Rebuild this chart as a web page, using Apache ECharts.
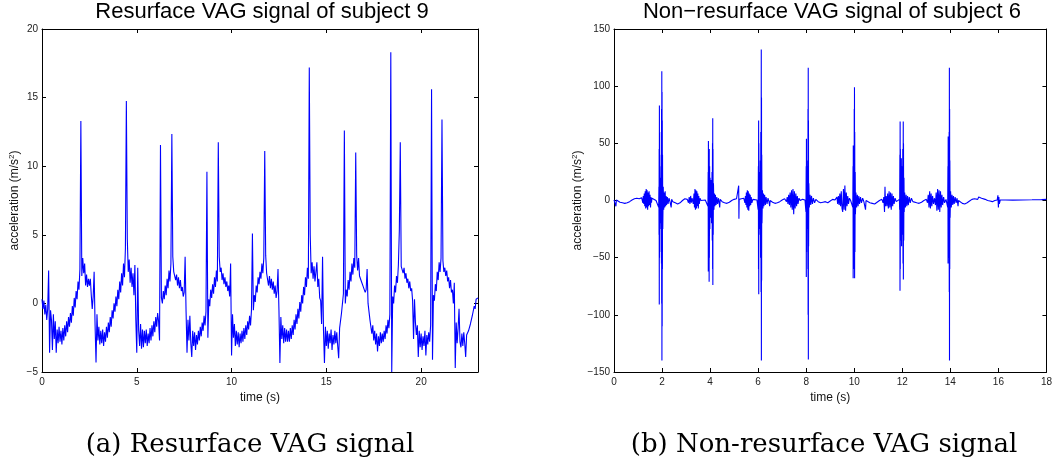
<!DOCTYPE html>
<html>
<head>
<meta charset="utf-8">
<script src="https://cdn.jsdelivr.net/npm/echarts@6/dist/echarts.min.js"></script>
<style>
html,body{margin:0;padding:0;background:#fff;}
#chart{width:1055px;height:465px;}
</style>
</head>
<body>
<div id="chart"></div>
<script>
// ---- Texts ----
const titleA = 'Resurface VAG signal of subject 9';
const titleB = 'Non\u2212resurface VAG signal of subject 6';
const captionA = '(a) Resurface VAG signal';
const captionB = '(b) Non-resurface VAG signal';
const xName = 'time (s)';
const yName = 'acceleration (m/s{sup|2})';

// ---- Axis ranges / ticks ----
const axisA = {xMin: 0, xMax: 23, xStep: 5, yMin: -5, yMax: 20, yStep: 5};
const axisB = {xMin: 0, xMax: 18, xStep: 2, yMin: -150, yMax: 150, yStep: 50};

// ---- (a) Resurface signal: samples every 0.05 s ----
const sampleStepA = 0.05;
const accelA = [
  0.3, -0.4, 0.2, -0.8, -0.1, -1.2, -0.4, 2.4, -3.6, -0.5,
  -1.2, -3.4, -0.8, -2.6, -1.3, -3.6, -1.9, -2.9, -1.7, -2.8,
  -2.0, -3.0, -1.8, -2.7, -1.6, -2.4, -1.3, -2.1, -1.0, -1.7,
  -0.7, -1.4, -0.2, -0.9, 0.4, -0.3, 0.9, 0.3, 1.6, 1.0,
  2.5, 13.3, 2.0, 3.3, 2.2, 2.9, 1.3, 2.1, 1.2, 1.8,
  1.3, 1.8, 0.6, -0.4, 0.5, 2.3, -1.6, -4.3, -0.8, -2.7,
  -1.7, -3.0, -2.0, -2.9, -1.9, -3.1, -2.1, -2.8, -1.7, -2.5,
  -1.4, -2.1, -1.0, -1.7, -0.5, -1.1, 0.0, -0.6, 0.5, -0.2,
  1.0, 0.3, 1.6, 0.8, 2.2, 1.3, 2.9, 1.9, 4.0, 14.75,
  4.7, 2.3, 3.2, 1.5, 2.6, 1.2, 2.2, 0.6, 2.8, -1.2,
  -3.6, 2.6, -2.0, -3.1, -1.5, -3.3, -1.9, -3.2, -2.0, -2.9,
  -1.9, -3.1, -2.2, -2.9, -1.8, -2.7, -1.6, -2.4, -1.3, -2.1,
  -1.0, -1.7, -0.7, -1.3, -2.7, 11.55, 0.4, 0.0, 0.9, 0.3,
  1.3, 0.6, 1.8, 1.1, 2.4, 1.6, 2.9, 12.35, 3.4, 2.3,
  2.4, 1.7, 2.1, 1.3, 1.9, 1.1, 1.7, 0.9, 1.2, 0.5,
  0.8, 3.4, -0.6, -3.6, -1.2, -2.7, -0.9, -2.9, -3.9, -2.0,
  -3.1, -2.1, -3.4, -2.3, -3.0, -2.0, -2.7, -1.7, -2.4, -1.4,
  -2.0, -0.9, -1.6, -0.6, 9.6, -2.5, 0.3, -0.2, 1.0, 0.4,
  1.4, 0.7, 1.9, 1.2, 2.4, 1.6, 11.74, 3.4, 2.3, 2.6,
  1.7, 2.2, 1.4, 1.9, 1.2, 1.6, 0.9, 1.3, 0.5, 2.9,
  -3.8, -0.8, -2.5, -1.5, -3.1, -2.0, -3.0, -2.1, -3.2, -2.2,
  -2.9, -2.0, -2.8, -1.8, -2.6, -1.6, -2.3, -1.3, -1.9, -0.9,
  -1.6, -0.5, 5.1, -0.5, 0.6, 0.1, 1.3, 0.8, 1.9, 1.4,
  2.3, 1.8, 2.9, 2.2, 3.3, 11.1, 3.5, 2.2, 2.3, 1.3,
  2.0, 1.1, 1.8, 1.0, 1.6, 0.7, 1.3, 0.4, 0.9, 2.5,
  -0.5, -4.35, -1.0, -2.6, -1.6, -2.9, -1.8, -2.8, -1.9, -2.8,
  -2.0, -2.8, -1.8, -2.6, -1.6, -2.3, -1.2, -1.9, -0.8, -1.5,
  -0.4, -1.1, 0.1, -0.6, 0.6, 0.0, 1.2, 0.6, 1.9, 1.2,
  2.6, 1.8, 17.2, 5.0, 2.2, 3.0, 1.8, 2.7, 1.6, 2.3,
  3.0, 1.2, 1.8, 0.4, 0.2, -1.5, 3.4, -2.0, -4.35, -1.7,
  -3.1, -2.0, -3.3, -2.2, -2.9, -1.9, -3.4, -2.3, -3.0, -2.0,
  -2.9, -2.1, -3.1, -4.0, -1.8, -1.9, -0.7, -0.8, 0.7, 12.6,
  0.0, 1.0, 0.5, 1.7, 1.0, 2.3, 1.6, 2.9, 2.1, 3.3,
  2.6, 11.0, 3.5, 2.4, 3.3, 2.0, 2.0, 1.6, 1.6, 1.2,
  1.3, 0.8, 1.0, 2.5, 0.0, -0.1, -1.2, -1.1, -2.2, -1.6,
  -2.7, -2.0, -3.0, -2.2, -3.5, -2.4, -3.1, -2.1, -2.9, -2.2,
  -2.8, -2.0, -2.6, -1.6, -2.2, -1.2, -1.8, -0.8, 18.3, -5.0,
  0.5, 0.0, 1.3, 0.8, 2.0, 1.5, 2.8, 5.3, 11.74, 2.7,
  2.8, 2.2, 2.6, 1.8, 2.2, 1.5, 1.8, 1.1, 1.6, 0.9,
  1.1, 0.2, -2.6, 0.3, -1.4, -2.3, -1.6, -3.9, -2.0, -3.2,
  -2.2, -3.4, -2.4, -3.1, -2.0, -3.8, -2.3, -3.0, -2.1, -2.8,
  -1.6, 15.6, -4.1, 0.6, 0.2, 1.4, 0.9, 2.3, 1.7, 3.0,
  2.3, 3.3, 13.4, 3.1, 2.3, 2.6, 2.0, 2.4, 1.6, 1.9,
  1.1, 1.7, 0.8, 1.0, 0.0, 1.5, -4.7, -1.4, -2.9, -1.8,
  -0.4, -2.8, -3.2, -2.2, -3.1, -2.1, -2.9, -3.9, -2.3, -2.4,
  -2.0, -2.1, -1.5, -1.5, -0.9, -0.9, -0.2, -0.4, 0.3, 0.2,
  0.4
];

// ---- (b) Non-resurface signal: [time (s), acceleration] ----
const signalB = [
  [0.00,0.5],[0.05,1],[0.08,-5],[0.10,0.5],[0.15,-0.5],[0.25,-1.5],[0.35,-2],[0.45,-2.5],[0.55,-2],[0.65,-1],[0.75,0.5],[0.85,1.5],[0.95,2],[1.05,1.5],[1.15,2.5],
  [1.20,-2],[1.22,4],[1.24,-3],[1.26,6],[1.28,-5],[1.30,8],[1.32,-7],[1.34,10],[1.36,-6],[1.38,9],[1.40,-8],[1.42,7],[1.44,-5],[1.46,8],[1.48,-4],[1.50,5],[1.52,-6],[1.54,3],[1.56,-2],[1.58,2],
  [1.65,0.5],[1.75,0],[1.83,1],
  [1.86,-6],[1.87,12],[1.875,-30],[1.88,45],[1.885,-91],[1.89,83],[1.895,-50],[1.90,40],[1.91,-25],[1.92,20],[1.93,-15],[1.94,12],[1.95,-20],[1.96,30],[1.965,-45],[1.97,60],[1.975,-55],[1.98,80],[1.985,-90],[1.99,113],[1.995,-140],[2.00,95],[2.005,-110],[2.01,70],[2.015,-60],[2.02,40],[2.03,-25],
  [2.05,12],[2.07,-8],[2.09,7],[2.11,-6],[2.13,8],[2.15,-5],[2.17,4],[2.19,-4],[2.22,3],[2.25,-3],[2.29,2],[2.33,-1],[2.38,-6],[2.40,1],[2.45,-1],[2.55,-2],[2.65,-3],[2.75,-2],[2.85,0],[2.95,1.5],[3.05,1],
  [3.10,-2],[3.13,3],[3.16,-3],[3.19,4],[3.22,-2],[3.25,2],[3.30,-3],[3.33,6],[3.35,-6],[3.37,10],[3.39,-8],[3.41,9],[3.43,-7],[3.45,8],[3.47,-5],[3.49,6],[3.51,-7],[3.53,4],[3.55,-3],[3.58,2],[3.62,0],[3.70,1],[3.80,0.5],[3.88,1],
  [3.91,-5],[3.92,25],[3.925,-62],[3.93,52],[3.935,-40],[3.94,30],[3.95,-20],[3.955,35],[3.96,-71],[3.965,45],[3.97,-50],[3.98,30],[3.99,-25],[4.00,20],[4.02,-15],[4.04,18],[4.06,-20],[4.08,25],[4.09,-35],[4.10,50],[4.105,-60],[4.11,72],[4.115,-74],[4.12,45],[4.13,-30],[4.14,15],
  [4.16,-8],[4.18,6],[4.20,-5],[4.22,5],[4.25,-4],[4.28,3],[4.31,-3],[4.35,2],[4.40,-6],[4.42,1],[4.50,-1],[4.60,-2],[4.70,-2.5],[4.80,-1.5],[4.90,0],[5.00,1],[5.10,1.5],
  [5.18,0],[5.19,13],[5.20,-16],[5.21,1],[5.30,1.5],[5.40,2],
  [5.45,-2],[5.47,4],[5.49,-4],[5.51,7],[5.53,-6],[5.55,9],[5.57,-8],[5.59,8],[5.61,-9],[5.63,6],[5.65,-5],[5.67,5],[5.69,-4],[5.71,3],[5.74,-2],[5.78,1],[5.85,0],[5.95,0.5],
  [6.00,-8],[6.01,30],[6.015,-60],[6.02,70],[6.025,-82],[6.03,50],[6.04,-30],[6.05,25],[6.06,-20],[6.07,22],[6.08,-25],[6.09,35],[6.10,-50],[6.11,60],[6.12,-80],[6.13,132],[6.135,-140],[6.14,90],[6.145,-70],[6.15,40],[6.16,-20],
  [6.18,9],[6.20,-7],[6.22,6],[6.24,-5],[6.27,5],[6.30,-4],[6.33,3],[6.37,-3],[6.41,2],[6.45,-1],[6.48,-5],[6.50,0],[6.60,-1.5],[6.70,-2.5],[6.80,-2],[6.90,-1],[7.00,0.5],[7.10,1.5],
  [7.18,-1],[7.21,3],[7.24,-3],[7.27,5],[7.30,-4],[7.33,7],[7.36,-6],[7.39,9],[7.42,-8],[7.45,10],[7.48,-12],[7.51,8],[7.54,-7],[7.57,6],[7.60,-5],[7.63,4],[7.66,-3],[7.70,2],[7.75,0],[7.85,1],[7.95,0.5],
  [7.99,-10],[8.00,30],[8.005,-67],[8.01,54],[8.015,-45],[8.02,30],[8.03,-20],[8.04,18],[8.05,-25],[8.06,35],[8.07,-60],[8.075,80],[8.08,-100],[8.085,116],[8.09,-139],[8.095,70],[8.10,-40],[8.11,15],
  [8.13,-6],[8.16,5],[8.19,-4],[8.22,4],[8.26,-3],[8.30,2],[8.35,-2],[8.40,1],[8.50,-1],[8.60,-2],[8.70,-1.5],[8.80,-1],[8.90,-2],[9.00,-0.5],[9.10,1],[9.20,0.5],
  [9.25,-1],[9.28,3],[9.31,-3],[9.34,4],[9.37,-4],[9.40,6],[9.43,-5],[9.46,8],[9.49,-7],[9.52,-10],[9.55,10],[9.58,-8],[9.61,13],[9.64,-9],[9.67,7],[9.70,-5],[9.73,4],[9.76,-3],[9.80,2],[9.85,0],[9.92,0.5],
  [9.94,-6],[9.95,30],[9.955,-68],[9.96,48],[9.965,-40],[9.97,35],[9.98,-30],[9.99,45],[9.995,-60],[10.00,80],[10.005,-50],[10.01,99],[10.015,-68],[10.02,60],[10.03,-45],[10.04,25],[10.05,-12],
  [10.07,7],[10.10,-6],[10.13,5],[10.16,-5],[10.19,4],[10.22,-3],[10.26,3],[10.30,-2],[10.35,2],[10.40,-1],[10.47,-8],[10.49,0],[10.55,-1],[10.65,-2],[10.75,-2.5],[10.85,-3],[10.95,-1.5],[11.05,0],[11.15,1],
  [11.20,-2],[11.23,3],[11.26,-10],[11.28,12],[11.30,-5],[11.33,4],[11.36,-5],[11.39,6],[11.42,-7],[11.45,8],[11.48,-6],[11.51,7],[11.54,-8],[11.57,6],[11.60,-5],[11.63,4],[11.66,-3],[11.70,2],[11.75,-1],[11.82,0.5],[11.88,1],
  [11.89,-8],[11.90,40],[11.905,-79],[11.91,69],[11.915,-60],[11.92,45],[11.93,-30],[11.94,25],[11.95,-35],[11.96,37],[11.97,-40],[11.98,30],[11.99,-25],[12.00,20],[12.01,-30],[12.02,45],[12.03,-55],[12.04,69],[12.045,-69],[12.05,50],[12.06,-35],[12.07,20],[12.08,-10],
  [12.10,7],[12.13,-6],[12.16,5],[12.19,-5],[12.22,4],[12.25,-4],[12.29,3],[12.33,-2],[12.38,2],[12.44,-1],[12.50,-1.5],[12.60,-2],[12.70,-2.5],[12.80,-1.5],[12.90,0],[13.00,1],
  [13.05,-2],[13.08,5],[13.11,-6],[13.14,8],[13.17,-7],[13.20,6],[13.23,-5],[13.26,4],[13.30,-3],[13.34,2],[13.38,-4],[13.41,7],[13.44,-9],[13.47,10],[13.50,-8],[13.53,9],[13.56,-10],[13.59,8],[13.62,-6],[13.65,5],[13.68,-4],[13.72,3],[13.76,-2],[13.82,1],[13.88,0.5],
  [13.89,-6],[13.90,30],[13.905,-55],[13.91,56],[13.915,-45],[13.92,35],[13.93,-30],[13.94,40],[13.945,-50],[13.95,60],[13.955,-80],[13.96,116],[13.965,-140],[13.97,80],[13.975,-60],[13.98,35],[13.99,-15],
  [14.01,8],[14.04,-6],[14.07,5],[14.10,-4],[14.13,4],[14.16,-3],[14.20,3],[14.24,-2],[14.28,2],[14.32,-5],[14.34,0],[14.40,-1],[14.50,-2.5],[14.60,-3],[14.70,-2],[14.80,-0.5],[14.90,1],[15.00,1.5],
  [15.08,2],[15.14,1],[15.18,3],[15.22,1.5],[15.26,3.5],[15.30,2],[15.34,3.3],[15.38,1.5],[15.45,1],[15.55,0],[15.65,-0.5],[15.75,-1],[15.85,0],[15.95,0.5],
  [15.98,4.5],[16.00,-6],[16.02,3],[16.04,-3],[16.08,0.5],[16.30,0.5],[16.60,0.3],[17.00,0.5],[17.40,0.6],[17.80,0.8],[18.00,1]
];

// ---- Build ----
const dataA = accelA.map((v, i) => [+(i * sampleStepA).toFixed(2), v]);
const FONT = '"Liberation Sans", Arial, Helvetica, sans-serif';
const minusFmt = v => String(v).replace('-', '\u2212');

function xAxes(grid, ax, hideMax) {
  const common = {
    gridIndex: grid, type: 'value', min: ax.xMin, max: ax.xMax, interval: ax.xStep,
    splitLine: {show: false},
    axisLine: {onZero: false, lineStyle: {color: '#000', width: 1}},
    axisTick: {inside: true, length: 4, lineStyle: {color: '#000', width: 1}}
  };
  return [
    Object.assign({}, common, {
      position: 'bottom',
      axisLabel: {color: '#222', fontSize: 10, fontFamily: FONT, margin: 5, showMaxLabel: !hideMax, formatter: minusFmt},
      name: xName, nameLocation: 'middle', nameGap: 16,
      nameTextStyle: {color: '#111', fontSize: 12, fontFamily: FONT}
    }),
    Object.assign({}, common, {position: 'top', axisLabel: {show: false}})
  ];
}
function yAxes(grid, ax) {
  const common = {
    gridIndex: grid, type: 'value', min: ax.yMin, max: ax.yMax, interval: ax.yStep,
    splitLine: {show: false},
    axisLine: {onZero: false, lineStyle: {color: '#000', width: 1}},
    axisTick: {inside: true, length: 4, lineStyle: {color: '#000', width: 1}}
  };
  return [
    Object.assign({}, common, {
      position: 'left',
      axisLabel: {color: '#222', fontSize: 10, fontFamily: FONT, margin: 4, formatter: minusFmt},
      name: yName, nameLocation: 'middle', nameGap: 20, nameRotate: 90,
      nameTextStyle: {color: '#111', fontSize: 12, fontFamily: FONT,
        rich: {sup: {fontSize: 8, fontFamily: FONT, color: '#111', verticalAlign: 'top', padding: [0, 0, 6, 0]}}}
    }),
    Object.assign({}, common, {position: 'right', axisLabel: {show: false}})
  ];
}

const chart = echarts.init(document.getElementById('chart'), null, {renderer: 'canvas'});
chart.setOption({
  animation: false,
  backgroundColor: '#fff',
  grid: [
    {left: 42, top: 29, width: 436, height: 343},
    {left: 614, top: 29, width: 433, height: 343}
  ],
  xAxis: [...xAxes(0, axisA, true), ...xAxes(1, axisB, false)],
  yAxis: [...yAxes(0, axisA), ...yAxes(1, axisB)],
  series: [
    {type: 'line', xAxisIndex: 0, yAxisIndex: 0, data: dataA, showSymbol: false, symbol: 'none',
      lineStyle: {color: '#0000ff', width: 1.1}, clip: true},
    {type: 'line', xAxisIndex: 2, yAxisIndex: 2, data: signalB, showSymbol: false, symbol: 'none',
      lineStyle: {color: '#0000ff', width: 1.1}, clip: true}
  ],
  graphic: [
    {type: 'text', x: 262, y: 12, style: {text: titleA, fill: '#000', font: '22px ' + FONT, textAlign: 'center', textVerticalAlign: 'middle'}},
    {type: 'text', x: 832, y: 12, style: {text: titleB, fill: '#000', font: '22px ' + FONT, textAlign: 'center', textVerticalAlign: 'middle'}},
    {type: 'text', x: 250, y: 445, style: {text: captionA, fill: '#000', font: '26px "DejaVu Serif", "Liberation Serif", serif', textAlign: 'center', textVerticalAlign: 'middle'}},
    {type: 'text', x: 824, y: 445, style: {text: captionB, fill: '#000', font: '26px "DejaVu Serif", "Liberation Serif", serif', textAlign: 'center', textVerticalAlign: 'middle'}}
  ]
});
</script>
</body>
</html>
